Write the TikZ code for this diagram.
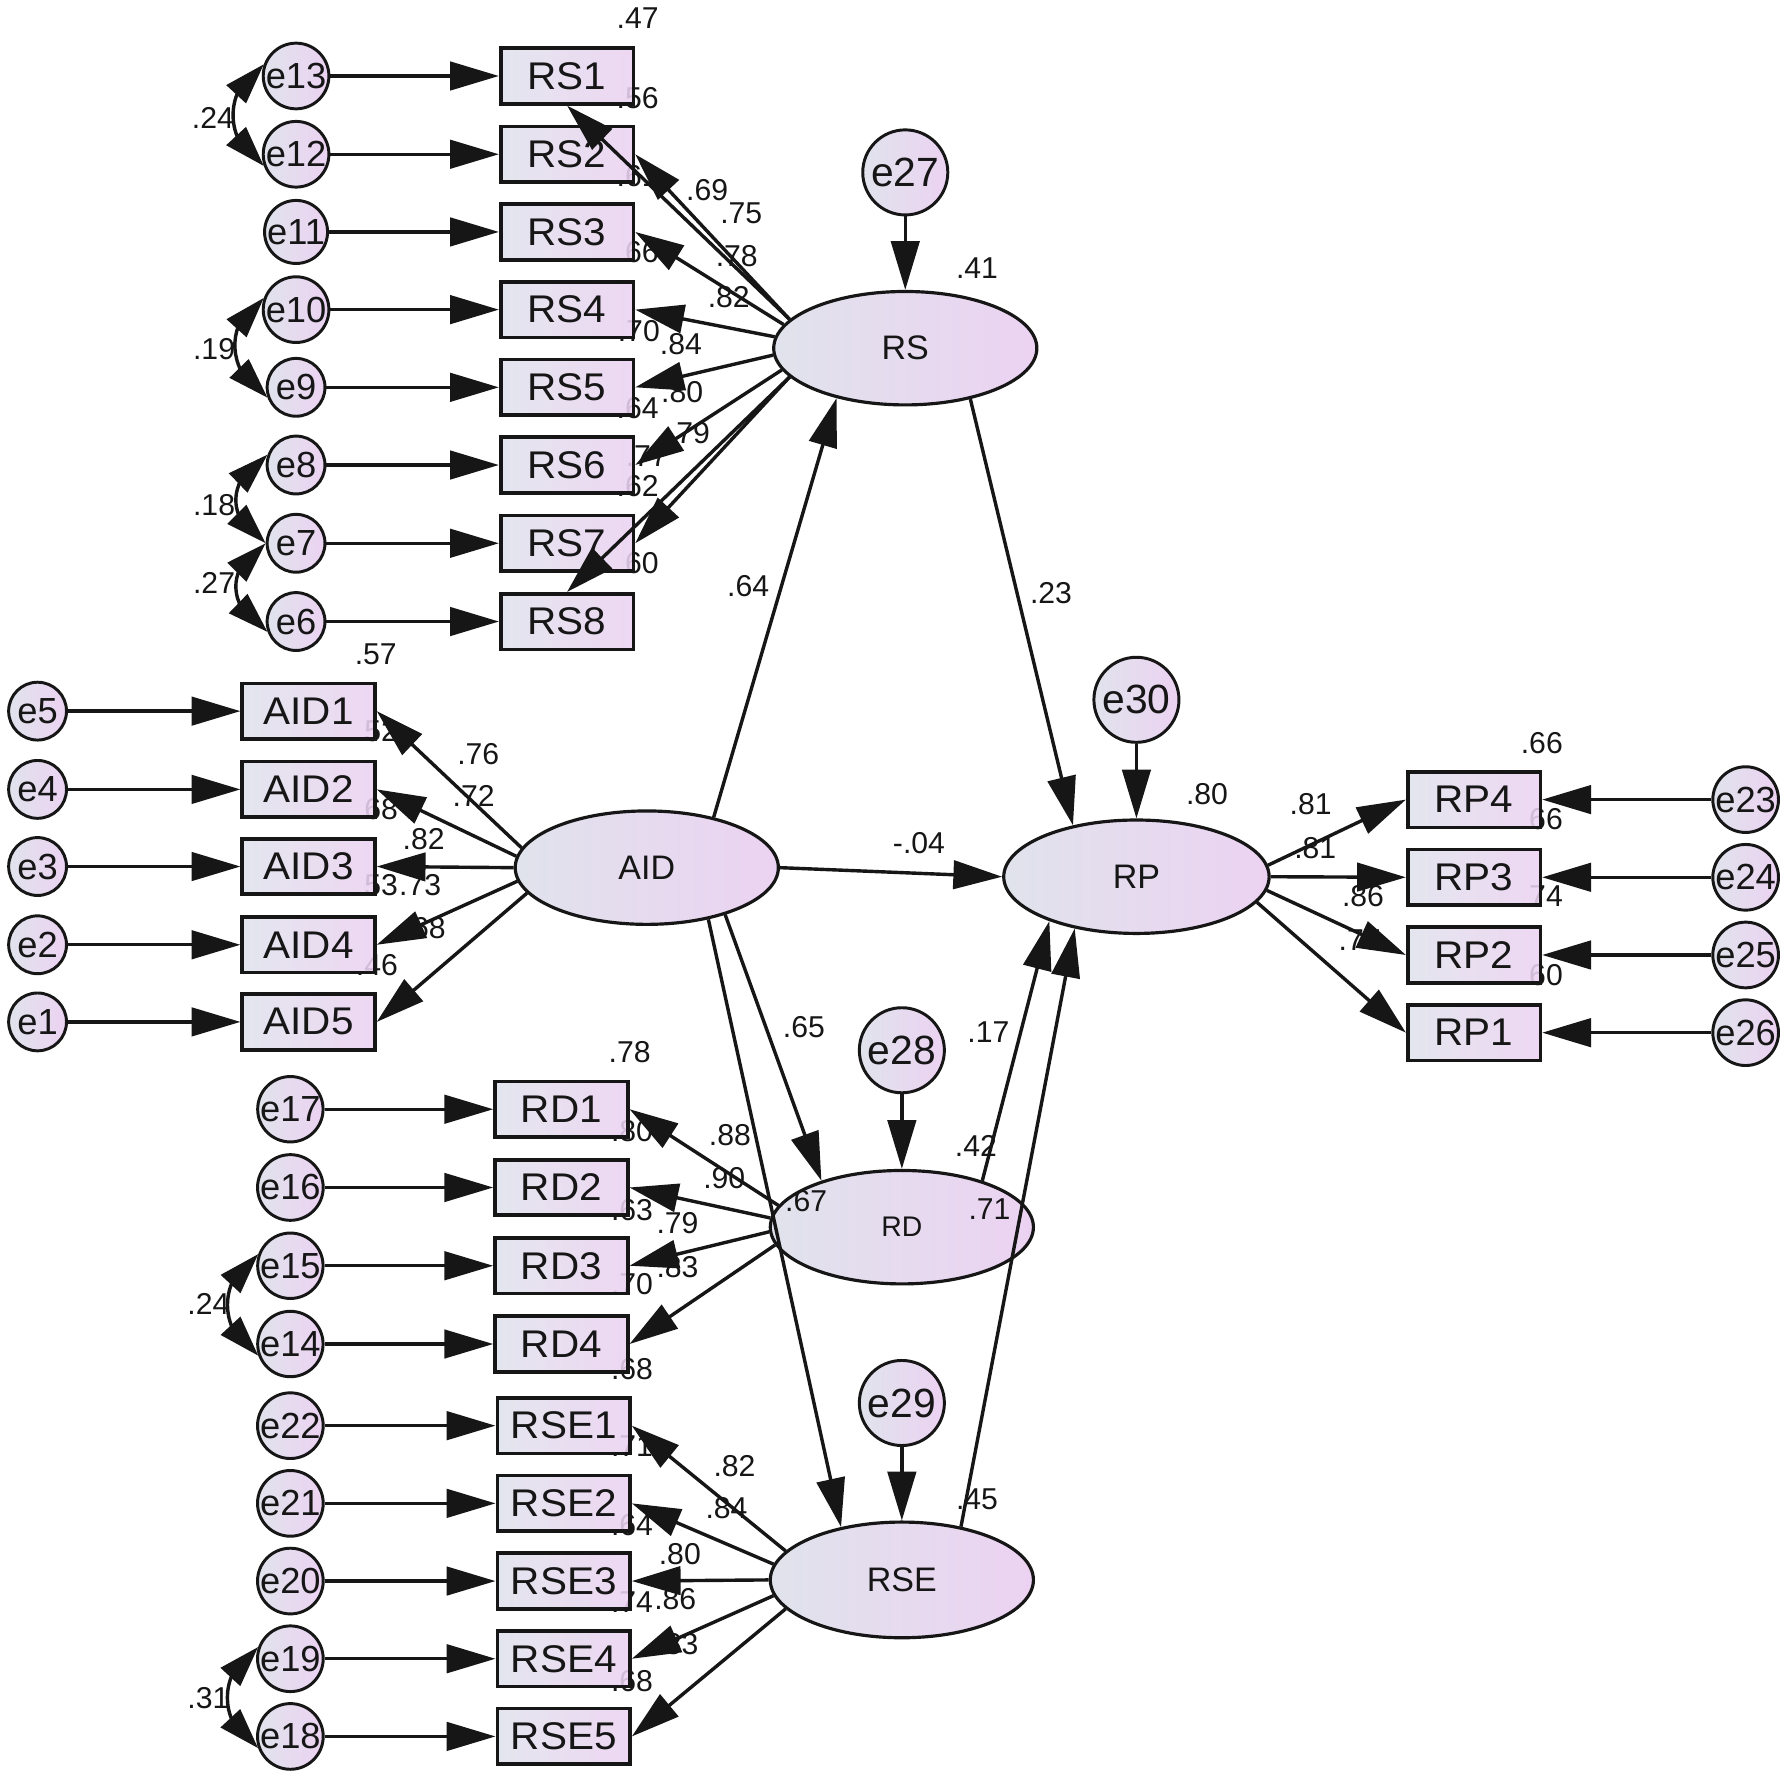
\documentclass[tikz,border=0pt]{standalone}
\usepackage{fontspec}
\setmainfont{Liberation Sans}
\newfontfamily\boxfont[FakeStretch=1.05]{Liberation Sans}
\usetikzlibrary{shapes.geometric,arrows.meta,bending}
\definecolor{cL}{HTML}{E0E3EC}
\definecolor{cR}{HTML}{ECD2F2}
\definecolor{ink}{HTML}{161616}
\begin{document}
\begin{tikzpicture}[x=0.502pt,y=-0.5pt,
  obs/.style={draw=ink,line width=1.6pt,rectangle,minimum width=58.5pt,minimum height=24.5pt,inner sep=0pt,left color=cL,right color=cR,fill opacity=0.88,text opacity=1,text=ink,font=\boxfont\fontsize{17}{19}\selectfont},
  err/.style={draw=ink,line width=1.3pt,circle,minimum size=25.5pt,inner sep=0pt,left color=cL,right color=cR,text=ink,font=\fontsize{16}{18}\selectfont},
  bigerr/.style={err,minimum size=37.5pt,font=\fontsize{18}{20}\selectfont},
  lat/.style={draw=ink,line width=1.4pt,ellipse,minimum width=116pt,minimum height=50pt,inner sep=0pt,left color=cL,right color=cR,text=ink,font=\fontsize{15}{17}\selectfont},
  arr/.style={draw=ink,line width=1.5pt,-{Triangle[length=21.5pt,width=12.5pt]}},
  cov/.style={draw=ink,line width=1.5pt,{Triangle[length=18pt,width=11.5pt]}-{Triangle[length=18pt,width=11.5pt]}},
  num/.style={font=\fontsize{13.3}{15}\selectfont,inner sep=0pt,text=ink}
]
\fill[white] (0,0) rectangle (1566.7,1564);
\useasboundingbox (0,0) rectangle (1566.7,1564);

% latent variables
\node[lat] (RS) at (795,307) {RS};
\node[lat] (AID) at (568,765) {AID};
\node[lat,minimum width=117pt] (RP) at (998,773) {RP};
\node[lat,font=\fontsize{12.5}{14}\selectfont] (RD) at (792,1082) {RD};
\node[lat,minimum height=51pt] (RSE) at (792,1393) {RSE};

% labels
\node[num] (l01) at (560,16) {.47};
\node[num] (l02) at (560,86.5) {.56};
\node[num] (l03) at (560,155) {.61};
\node[num] (l04) at (621,168) {.69};
\node[num] (l05) at (651,188) {.75};
\node[num] (l06) at (647,226) {.78};
\node[num] (l07) at (560,222) {.66};
\node[num] (l08) at (640,262) {.82};
\node[num] (l09) at (561,292) {.70};
\node[num] (l10) at (598,303) {.84};
\node[num] (l11) at (599,346) {.80};
\node[num] (l12) at (560,360) {.64};
\node[num] (l13) at (605,382) {.79};
\node[num] (l14) at (568,402) {.77};
\node[num] (l15) at (560,429) {.62};
\node[num] (l16) at (560,496.5) {.60};
\node[num] (l17) at (858,236) {.41};
\node[num] (l18) at (657,517) {.64};
\node[num] (l19) at (923,523) {.23};
\node[num] (l20) at (330,577) {.57};
\node[num] (l21) at (331,645) {.52};
\node[num] (l22) at (420,665) {.76};
\node[num] (l23) at (416,701.5) {.72};
\node[num] (l24) at (331,713) {.68};
\node[num] (l25) at (372,739.5) {.82};
\node[num] (l26) at (331,780.5) {.53};
\node[num] (l27) at (369,780.5) {.73};
\node[num] (l28) at (373,818.6) {.68};
\node[num] (l29) at (331,851) {.46};
\node[num] (l30) at (807,743) {-.04};
\node[num] (l31) at (1060,700) {.80};
\node[num] (l32) at (706,906) {.65};
\node[num] (l33) at (868,910) {.17};
\node[num] (l34) at (857,1010.5) {.42};
\node[num] (l35) at (708,1059) {.67};
\node[num] (l36) at (869,1066) {.71};
\node[num] (l37) at (858,1322) {.45};
\node[num] (l38) at (553,928) {.78};
\node[num] (l39) at (555,997) {.80};
\node[num] (l40) at (641,1001) {.88};
\node[num] (l41) at (636,1038.5) {.90};
\node[num] (l42) at (555,1067) {.63};
\node[num] (l43) at (595,1078) {.79};
\node[num] (l44) at (555,1132) {.70};
\node[num] (l45) at (595,1117) {.83};
\node[num] (l46) at (555,1207) {.68};
\node[num] (l47) at (555,1275) {.71};
\node[num] (l48) at (645,1293) {.82};
\node[num] (l49) at (638,1330) {.84};
\node[num] (l50) at (555,1345) {.64};
\node[num] (l51) at (597,1370) {.80};
\node[num] (l52) at (555,1413) {.74};
\node[num] (l53) at (593,1410) {.86};
\node[num] (l54) at (595,1450) {.83};
\node[num] (l55) at (555,1482) {.68};
\node[num] (l56) at (1354,655) {.66};
\node[num] (l57) at (1151,709) {.81};
\node[num] (l58) at (1354,722) {.66};
\node[num] (l59) at (1155,748) {.81};
\node[num] (l60) at (1197,790) {.86};
\node[num] (l61) at (1354,790) {.74};
\node[num] (l62) at (1194,829) {.77};
\node[num] (l63) at (1354,860) {.60};
\node[num] (l64) at (187,104) {.24};
\node[num] (l65) at (188,308) {.19};
\node[num] (l66) at (188,445) {.18};
\node[num] (l67) at (188,514) {.27};
\node[num] (l68) at (183,1150) {.24};
\node[num] (l69) at (183,1497) {.31};

% disturbance circles
\node[bigerr] (e27) at (795,152) {e27};
\node[bigerr] (e30) at (998,617) {e30};
\node[bigerr] (e28) at (792,926) {e28};
\node[bigerr] (e29) at (792,1237) {e29};

% observed + error terms
\foreach \i/\y/\e in {1/67/13,2/136/12,3/204.5/11,4/273/10,5/341.5/9,6/410/8,7/479/7,8/548/6}{
  \node[obs] (RS\i) at (498,\y) {RS\i};
  \node[err] (e\e) at (260,\y) {e\e};
}
\foreach \i/\y/\e in {1/627/5,2/696/4,3/764/3,4/833/2,5/901/1}{
  \node[obs] (AID\i) at (271,\y) {AID\i};
  \node[err] (e\e) at (33,\y) {e\e};
}
\foreach \i/\y/\e in {1/978/17,2/1047/16,3/1116/15,4/1185/14}{
  \node[obs] (RD\i) at (493,\y) {RD\i};
  \node[err] (e\e) at (255,\y) {e\e};
}
\foreach \i/\y/\e in {1/1257/22,2/1325.5/21,3/1394/20,4/1462.5/19,5/1531/18}{
  \node[obs] (RSE\i) at (495,\y) {RSE\i};
  \node[err] (e\e) at (255,\y) {e\e};
}
\foreach \i/\y/\e in {4/705/23,3/773.5/24,2/842/25,1/910.5/26}{
  \node[obs] (RP\i) at (1294.5,\y) {RP\i};
  \node[err,minimum size=26.5pt] (e\e) at (1533,\y) {e\e};
}

% error arrows
\foreach \i/\e in {1/13,2/12,3/11,4/10,5/9,6/8,7/7,8/6}{\draw[arr] (e\e) -- (RS\i);}
\foreach \i/\e in {1/5,2/4,3/3,4/2,5/1}{\draw[arr] (e\e) -- (AID\i);}
\foreach \i/\e in {1/17,2/16,3/15,4/14}{\draw[arr] (e\e) -- (RD\i);}
\foreach \i/\e in {1/22,2/21,3/20,4/19,5/18}{\draw[arr] (e\e) -- (RSE\i);}
\foreach \i/\e in {4/23,3/24,2/25,1/26}{\draw[arr] (e\e) -- (RP\i);}
\draw[arr] (e27) -- (RS);
\draw[arr] (e30) -- (RP);
\draw[arr] (e28) -- (RD);
\draw[arr] (e29) -- (RSE);

% loadings
\draw[arr] (RS.166) -- (RS1.south);
\draw[arr] (RS.166) -- (RS2.east);
\draw[arr] (RS.169) -- (RS3.east);
\draw[arr] (RS.175) -- (RS4.east);
\draw[arr] (RS.183) -- (RS5.east);
\draw[arr] (RS.190) -- (RS6.east);
\draw[arr] (RS.194) -- (RS7.east);
\draw[arr] (RS.194) -- (RS8.north);

\draw[arr] (AID.171) -- (AID1.east);
\draw[arr] (AID.175) -- (AID2.east);
\draw[arr] (AID.west) -- (AID3.east);
\draw[arr] (AID.186) -- (AID4.east);
\draw[arr] (AID.192) -- (AID5.east);

\draw[arr] (RD.170) -- (RD1.east);
\draw[arr] (RD.176) -- (RD2.east);
\draw[arr] (RD.182) -- (RD3.east);
\draw[arr] (RD.188) -- (RD4.east);

\draw[arr] (RSE.166) -- (RSE1.east);
\draw[arr] (RSE.173) -- (RSE2.east);
\draw[arr] (RSE.west) -- (RSE3.east);
\draw[arr] (RSE.187) -- (RSE4.east);
\draw[arr] (RSE.194) -- (RSE5.east);

\draw[arr] (RP.5) -- (RP4.west);
\draw[arr] (RP.east) -- (RP3.west);
\draw[arr] (RP.-6) -- (RP2.west);
\draw[arr] (RP.-12) -- (RP1.west);

% structural paths
\draw[arr] (AID.37) -- (RS.216);
\draw[arr] (RS.-38) -- (RP.141);
\draw[arr] (AID.east) -- (RP.west);
\draw[arr] (AID.-31) -- (RD.150);
\draw[arr] (AID.-40) -- (RSE.139);
\draw[arr] (RD.30) -- (RP.207);
\draw[arr] (RSE.42) -- (RP.220);

% covariances
\draw[cov] (e13.160) .. controls +(-36,20) and +(-36,-20) .. (e12.200);
\draw[cov] (e10.160) .. controls +(-36,20) and +(-36,-20) .. (e9.200);
\draw[cov] (e8.160) .. controls +(-36,20) and +(-36,-20) .. (e7.180);
\draw[cov] (e7.180) .. controls +(-36,20) and +(-36,-20) .. (e6.200);
\draw[cov] (e15.160) .. controls +(-36,20) and +(-36,-20) .. (e14.200);
\draw[cov] (e19.160) .. controls +(-36,20) and +(-36,-20) .. (e18.200);
\end{tikzpicture}
\end{document}
